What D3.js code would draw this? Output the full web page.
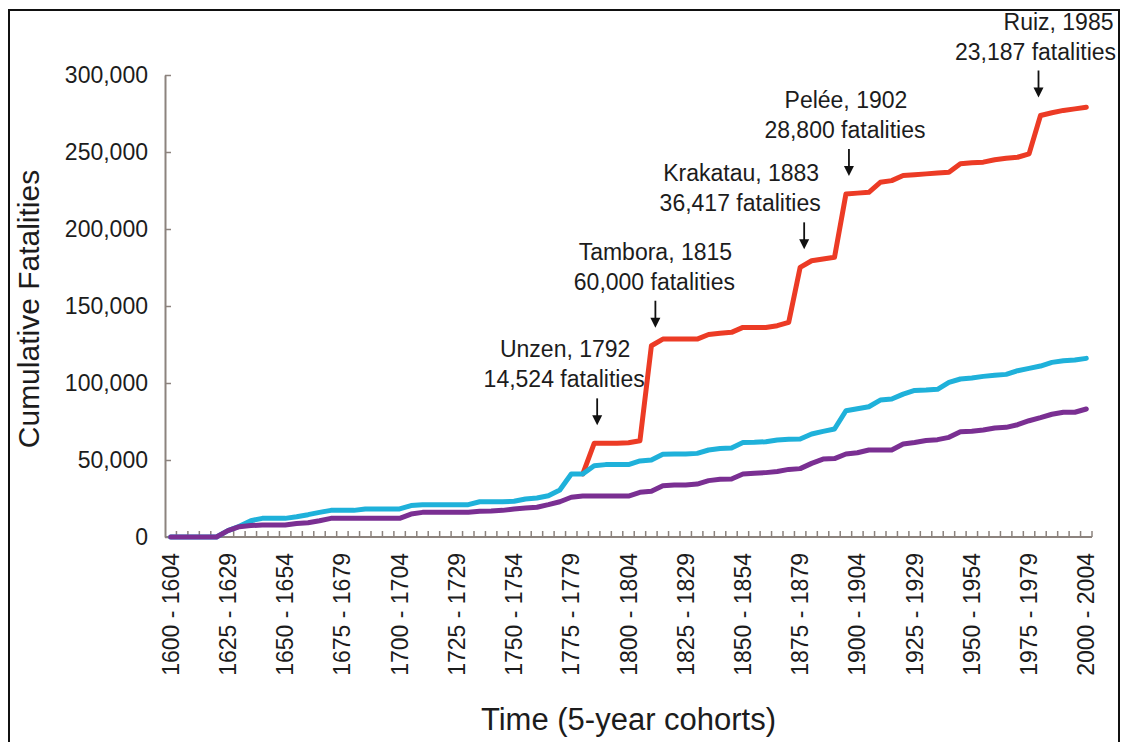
<!DOCTYPE html>
<html>
<head>
<meta charset="utf-8">
<script src="https://cdn.jsdelivr.net/npm/d3@7"></script>
<style>
  html, body { margin: 0; padding: 0; background: #fff; }
  svg { display: block; font-family: "Liberation Sans", Arial, Helvetica, sans-serif; }
</style>
</head>
<body>
<svg id="chart" width="1123" height="742"></svg>
<script>
// ---------------- DATA ----------------
const categories = [
  "1600 - 1604","1605 - 1609","1610 - 1614","1615 - 1619","1620 - 1624",
  "1625 - 1629","1630 - 1634","1635 - 1639","1640 - 1644","1645 - 1649",
  "1650 - 1654","1655 - 1659","1660 - 1664","1665 - 1669","1670 - 1674",
  "1675 - 1679","1680 - 1684","1685 - 1689","1690 - 1694","1695 - 1699",
  "1700 - 1704","1705 - 1709","1710 - 1714","1715 - 1719","1720 - 1724",
  "1725 - 1729","1730 - 1734","1735 - 1739","1740 - 1744","1745 - 1749",
  "1750 - 1754","1755 - 1759","1760 - 1764","1765 - 1769","1770 - 1774",
  "1775 - 1779","1780 - 1784","1785 - 1789","1790 - 1794","1795 - 1799",
  "1800 - 1804","1805 - 1809","1810 - 1814","1815 - 1819","1820 - 1824",
  "1825 - 1829","1830 - 1834","1835 - 1839","1840 - 1844","1845 - 1849",
  "1850 - 1854","1855 - 1859","1860 - 1864","1865 - 1869","1870 - 1874",
  "1875 - 1879","1880 - 1884","1885 - 1889","1890 - 1894","1895 - 1899",
  "1900 - 1904","1905 - 1909","1910 - 1914","1915 - 1919","1920 - 1924",
  "1925 - 1929","1930 - 1934","1935 - 1939","1940 - 1944","1945 - 1949",
  "1950 - 1954","1955 - 1959","1960 - 1964","1965 - 1969","1970 - 1974",
  "1975 - 1979","1980 - 1984","1985 - 1989","1990 - 1994","1995 - 1999",
  "2000 - 2004"
];

// Labelled categories on the x axis
const xTickLabels = [
  "1600 - 1604","1625 - 1629","1650 - 1654","1675 - 1679","1700 - 1704",
  "1725 - 1729","1750 - 1754","1775 - 1779","1800 - 1804","1825 - 1829",
  "1850 - 1854","1875 - 1879","1900 - 1904","1925 - 1929","1950 - 1954",
  "1975 - 1979","2000 - 2004"
];
const yTickValues = [0, 50000, 100000, 150000, 200000, 250000, 300000];

// Red: all eruptions (starts where it leaves the cyan series)
const redSeries = [
  null,null,null,null,null,null,null,null,null,null,
  null,null,null,null,null,null,null,null,null,null,
  null,null,null,null,null,null,null,null,null,null,
  null,null,null,null,null,null,
  40900, 60800, 60800, 60800, 61200, 62500, 124200, 128500, 128500, 128500,
  128500, 131500, 132300, 132900, 136100, 136100, 136100, 137200, 139400, 175100,
  179400, 180500, 181600, 222700, 223300, 223800, 230300, 231400, 234700, 235200,
  235800, 236300, 236800, 242300, 243000, 243400, 245000, 246000, 246600, 248800,
  273700, 275500, 277000, 278000, 279100
];
// Cyan series
const cyanSeries = [
  0, 0, 0, 0, 0, 4100, 7000, 10600, 12100, 12100,
  12100, 13200, 14500, 16000, 17300, 17300, 17300, 18200, 18200, 18200,
  18200, 20400, 21000, 21000, 21000, 21000, 21000, 22900, 22900, 22900,
  23200, 24700, 25300, 26800, 30500, 40900, 40900, 46300, 47000, 47000,
  47000, 49400, 50000, 53700, 53900, 53900, 54300, 56500, 57400, 57800,
  61300, 61500, 61900, 63000, 63400, 63600, 66900, 68600, 70100, 82000,
  83300, 84600, 88900, 89600, 92800, 95200, 95400, 95900, 100400, 102600,
  103300, 104300, 105000, 105600, 108000, 109500, 111000, 113400, 114500, 114900,
  116000
];
// Purple series
const purpleSeries = [
  0, 0, 0, 0, 0, 4100, 6700, 7400, 7800, 7800,
  7800, 8700, 9300, 10600, 12100, 12100, 12100, 12100, 12100, 12100,
  12100, 14900, 16000, 16000, 16000, 16000, 16000, 16700, 16900, 17300,
  18200, 18800, 19300, 21000, 22900, 25800, 26600, 26600, 26600, 26600,
  26600, 29000, 29700, 33300, 33800, 33800, 34400, 36600, 37500, 37700,
  40900, 41400, 41800, 42500, 43900, 44400, 47800, 50600, 50900, 53900,
  54700, 56500, 56500, 56500, 60400, 61400, 62700, 63200, 64700, 68400,
  68600, 69500, 70800, 71200, 72900, 75500, 77500, 79700, 81000, 81000,
  83100
];

// Annotated eruptions: category the arrow points at, and the two text lines
const eventCategories = ["1785 - 1789","1810 - 1814","1875 - 1879","1895 - 1899","1980 - 1984"];
const eventTitles = ["Unzen, 1792","Tambora, 1815","Krakatau, 1883","Pelée, 1902","Ruiz, 1985"];
const eventCounts = ["14,524 fatalities","60,000 fatalities","36,417 fatalities","28,800 fatalities","23,187 fatalities"];

// ---------------- LAYOUT / STYLE ----------------
const plot = { left: 165, right: 1092, top: 75, bottom: 537 };
const axisColor = "#8c837e";
const textColor = "#1c1c1c";
const seriesStyle = [
  { data: redSeries,    color: "#ec3b25" },
  { data: cyanSeries,   color: "#1fb1da" },
  { data: purpleSeries, color: "#7a2f92" }
];
// text offsets of annotation lines relative to the arrow (layout only)
const annLayout = [
  { dx1: -32, dx2: -33, dxArrow: 3 },
  { dx1: 0,   dx2: -1,  dxArrow: 4 },
  { dx1: -63, dx2: -64, dxArrow: 4 },
  { dx1: -3,  dx2: -4,  dxArrow: 3 },
  { dx1: 20,  dx2: -3,  dxArrow: -2 }
];

const svg = d3.select("#chart");

// outer frame
svg.append("rect")
  .attr("x", 9).attr("y", 10).attr("width", 1110).attr("height", 780)
  .attr("fill", "none").attr("stroke", "#111").attr("stroke-width", 2);

const x = d3.scaleBand().domain(categories).range([plot.left, plot.right]).paddingInner(0).paddingOuter(0);
const xc = c => x(c) + x.bandwidth() / 2;
const y = d3.scaleLinear().domain([0, 300000]).range([plot.bottom, plot.top]);

// Y axis
const yAxis = d3.axisLeft(y)
  .tickValues(yTickValues)
  .tickFormat(d3.format(","))
  .tickSizeInner(-6).tickSizeOuter(0).tickPadding(17);
const gy = svg.append("g").attr("transform", `translate(${plot.left},0)`).call(yAxis);
gy.select(".domain").attr("stroke", axisColor).attr("stroke-width", 2);
gy.selectAll(".tick line").attr("stroke", axisColor).attr("stroke-width", 1.5);
gy.selectAll(".tick text").attr("fill", textColor).style("font-size", "23px");

// X axis: labels at every 5th category centre
const xAxis = d3.axisBottom(x).tickValues(xTickLabels).tickSize(0).tickPadding(0);
const gx = svg.append("g").attr("transform", `translate(0,${plot.bottom})`).call(xAxis);
gx.select(".domain").remove();
gx.selectAll(".tick text")
  .attr("fill", textColor)
  .style("font-size", "23px")
  .attr("text-anchor", "end")
  .attr("transform", "rotate(-90)")
  .attr("x", -16)
  .attr("y", 0)
  .attr("dy", "0.35em");
// x axis line
svg.append("line")
  .attr("x1", plot.left).attr("x2", plot.right)
  .attr("y1", plot.bottom).attr("y2", plot.bottom)
  .attr("stroke", axisColor).attr("stroke-width", 2);
// minor tick marks at every category boundary (pointing up into the plot)
const boundaries = categories.map(c => x(c)).concat([x(categories[categories.length - 1]) + x.bandwidth()]);
svg.append("g").selectAll("line").data(boundaries.slice(1)).join("line")
  .attr("x1", d => d).attr("x2", d => d)
  .attr("y1", plot.bottom).attr("y2", plot.bottom - 6)
  .attr("stroke", axisColor).attr("stroke-width", 1.5);

// Axis titles
svg.append("text")
  .attr("x", (plot.left + plot.right) / 2).attr("y", 730)
  .attr("text-anchor", "middle").attr("fill", textColor)
  .style("font-size", "31px")
  .text("Time (5-year cohorts)");
svg.append("text")
  .attr("transform", `translate(39,${(plot.top + plot.bottom) / 2 + 3}) rotate(-90)`)
  .attr("text-anchor", "middle").attr("fill", textColor)
  .style("font-size", "30px")
  .text("Cumulative Fatalities");

// Lines
const line = d3.line()
  .defined(d => d[1] !== null)
  .x(d => xc(d[0]))
  .y(d => y(d[1]));
seriesStyle.forEach(s => {
  svg.append("path")
    .datum(categories.map((c, i) => [c, s.data[i]]))
    .attr("fill", "none")
    .attr("stroke", s.color)
    .attr("stroke-width", 5)
    .attr("stroke-linejoin", "round")
    .attr("stroke-linecap", "round")
    .attr("d", line);
});

// Annotations
const arrowLen = 27, gap = 18;
eventCategories.forEach((c, k) => {
  const i = categories.indexOf(c);
  const ax = xc(c) + annLayout[k].dxArrow;
  const tip = y(redSeries[i]) - gap;
  const top = tip - arrowLen;
  const g = svg.append("g");
  g.append("line").attr("x1", ax).attr("x2", ax).attr("y1", top).attr("y2", tip - 8)
    .attr("stroke", "#111").attr("stroke-width", 1.8);
  g.append("path")
    .attr("d", `M${ax - 5},${tip - 10} L${ax + 5},${tip - 10} L${ax},${tip} Z`)
    .attr("fill", "#111");
  g.append("text").attr("x", ax + annLayout[k].dx1).attr("y", tip - 68)
    .attr("text-anchor", "middle").attr("fill", textColor).style("font-size", "23px")
    .text(eventTitles[k]);
  g.append("text").attr("x", ax + annLayout[k].dx2).attr("y", tip - 38)
    .attr("text-anchor", "middle").attr("fill", textColor).style("font-size", "23px")
    .text(eventCounts[k]);
});
</script>
</body>
</html>
